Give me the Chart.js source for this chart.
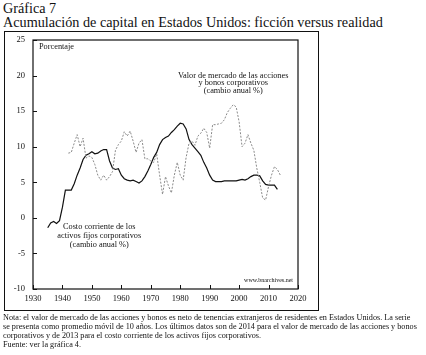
<!DOCTYPE html>
<html>
<head>
<meta charset="utf-8">
<script src="https://cdn.jsdelivr.net/npm/chart.js@4"></script>
<style>
html,body{margin:0;padding:0;background:#fff;}
body{width:426px;height:355px;position:relative;overflow:hidden;font-family:"Liberation Serif","DejaVu Serif",serif;color:#111;}
#t1{position:absolute;left:3px;top:1px;font-size:14.2px;line-height:14px;white-space:nowrap;}
#t2{position:absolute;left:3px;top:15px;font-size:14.2px;line-height:14px;white-space:nowrap;}
#frame{position:absolute;left:4px;top:31px;width:313px;height:278px;border:1.3px solid #111;}
#cv{position:absolute;left:0;top:0;}
#note{position:absolute;left:3px;top:314px;font-size:8.2px;line-height:8.9px;white-space:nowrap;}
</style>
</head>
<body>
<div id="t1">Gráfica 7</div>
<div id="t2">Acumulación de capital en Estados Unidos: ficción versus realidad</div>
<div id="frame"></div>
<canvas id="cv" width="426" height="355"></canvas>
<div id="note">Nota: el valor de mercado de las acciones y bonos es neto de tenencias extranjeros de residentes en Estados Unidos. La serie<br>se presenta como promedio móvil de 10 años. Los últimos datos son de 2014 para el valor de mercado de las acciones y bonos<br>corporativos y de 2013 para el costo corriente de los activos fijos corporativos.<br>Fuente: ver la gráfica 4.</div>
<script>
// Costo corriente de los activos fijos corporativos (1935-2013)
const costYears = [];
for (let y = 1935; y <= 2013; y++) costYears.push(y);
const costValues = [-1.4,-0.7,-0.5,-0.8,-0.4,1.5,3.9,3.9,3.9,4.8,
 6.0,7.0,8.2,8.8,9.0,9.3,9.0,9.1,9.4,9.6,
 9.6,8.0,7.0,6.8,6.9,6.0,5.5,5.3,5.2,5.3,
 5.1,4.9,5.2,5.8,6.6,7.5,8.5,9.2,10.3,11.0,
 11.3,11.5,12.0,12.4,12.9,13.3,13.2,12.5,11.0,10.3,
 9.8,9.3,8.8,7.8,7.0,6.0,5.3,5.1,5.1,5.1,
 5.2,5.2,5.2,5.2,5.2,5.3,5.4,5.3,5.5,5.8,
 6.0,6.0,5.9,5.2,4.7,4.6,4.6,4.6,4.0];

// Valor de mercado de las acciones y bonos corporativos (1942-2014)
const marketYears = [];
for (let y = 1942; y <= 2014; y++) marketYears.push(y);
const marketValues = [9.1,9.2,10.5,11.7,10.0,11.2,8.4,8.7,8.5,7.5,
 6.0,5.3,6.0,5.3,5.8,6.5,9.5,10.3,10.8,12.1,
 11.5,12.2,10.8,9.2,10.5,11.0,8.3,8.3,8.0,7.8,
 9.0,6.0,3.3,5.8,4.5,3.5,6.0,7.8,6.0,5.3,
 8.5,10.5,10.8,10.2,11.5,11.9,12.6,12.0,9.8,13.1,
 13.1,13.2,13.3,13.8,14.8,15.4,15.9,15.6,13.5,10.0,
 10.5,11.7,10.5,9.5,7.0,5.0,2.8,2.5,4.4,6.0,
 7.2,6.8,6.0];

const xTicks = [1930,1940,1950,1960,1970,1980,1990,2000,2010,2020];
const yTicks = [-10,-5,0,5,10,15,20,25];

const costPts = costYears.map((y,i)=>({x:y,y:costValues[i]}));
const marketPts = marketYears.map((y,i)=>({x:y,y:marketValues[i]}));

const FONT = "Liberation Serif";

const decor = {
  id:'decor',
  afterDraw(chart){
    const {ctx, chartArea:a, scales:{x, y}} = chart;
    ctx.save();
    ctx.strokeStyle = '#111';
    ctx.lineWidth = 1.2;
    ctx.strokeRect(a.left, a.top, a.right-a.left, a.bottom-a.top);
    ctx.lineWidth = 1;
    xTicks.forEach(v=>{
      const px = Math.round(x.getPixelForValue(v))+0.5;
      ctx.beginPath(); ctx.moveTo(px,a.bottom); ctx.lineTo(px,a.bottom-4); ctx.stroke();
    });
    yTicks.forEach(v=>{
      const py = Math.round(y.getPixelForValue(v))+0.5;
      ctx.beginPath(); ctx.moveTo(a.left,py); ctx.lineTo(a.left+4,py); ctx.stroke();
    });
    ctx.fillStyle = '#111';
    ctx.font = '8.3px "'+FONT+'"';
    ctx.textBaseline = 'middle';
    ctx.textAlign = 'left';
    ctx.fillText('Porcentaje', a.left+6, a.top+7);
    ctx.textAlign = 'center';
    const mx = x.getPixelForValue(1998), my = y.getPixelForValue(20);
    ctx.fillText('Valor de mercado de las acciones', mx, my);
    ctx.fillText('y bonos corporativos', mx, my+7.5);
    ctx.fillText('(cambio anual %)', mx, my+15);
    const cx = x.getPixelForValue(1952.5), cy = y.getPixelForValue(-1.2);
    ctx.fillText('Costo corriente de los', cx, cy);
    ctx.fillText('activos fijos corporativos', cx, cy+9);
    ctx.fillText('(cambio anual %)', cx, cy+18);
    ctx.font = '6px "'+FONT+'"';
    ctx.textAlign = 'right';
    ctx.fillText('www.bnarchives.net', a.right-5, a.bottom-9);
    ctx.restore();
  }
};

new Chart(document.getElementById('cv'), {
  type:'line',
  data:{datasets:[
    {label:'Valor de mercado', data:marketPts, borderColor:'#8a8a8a', borderWidth:1, borderDash:[2,1.5], pointRadius:0, tension:0, fill:false},
    {label:'Costo corriente', data:costPts, borderColor:'#111', borderWidth:1.2, pointRadius:0, tension:0, fill:false}
  ]},
  options:{
    responsive:false, animation:false, devicePixelRatio:1,
    layout:{padding:{left:4,top:40,right:128,bottom:45}},
    plugins:{legend:{display:false},tooltip:{enabled:false}},
    scales:{
      x:{type:'linear', min:1930, max:2020,
        afterBuildTicks(s){s.ticks = xTicks.map(v=>({value:v}));},
        afterFit(s){s.height = 21;},
        grid:{display:false, drawTicks:false}, border:{display:false},
        ticks:{padding:5, color:'#111', font:{family:FONT,size:8.5}, maxRotation:0, autoSkip:false, callback:v=>String(v)}},
      y:{type:'linear', min:-10, max:25,
        afterBuildTicks(s){s.ticks = yTicks.map(v=>({value:v}));},
        afterFit(s){s.width = 29;},
        grid:{display:false, drawTicks:false}, border:{display:false},
        ticks:{padding:8, color:'#111', font:{family:FONT,size:8.5}, autoSkip:false, callback:v=>String(v)}}
    }
  },
  plugins:[decor]
});
</script>
</body>
</html>
